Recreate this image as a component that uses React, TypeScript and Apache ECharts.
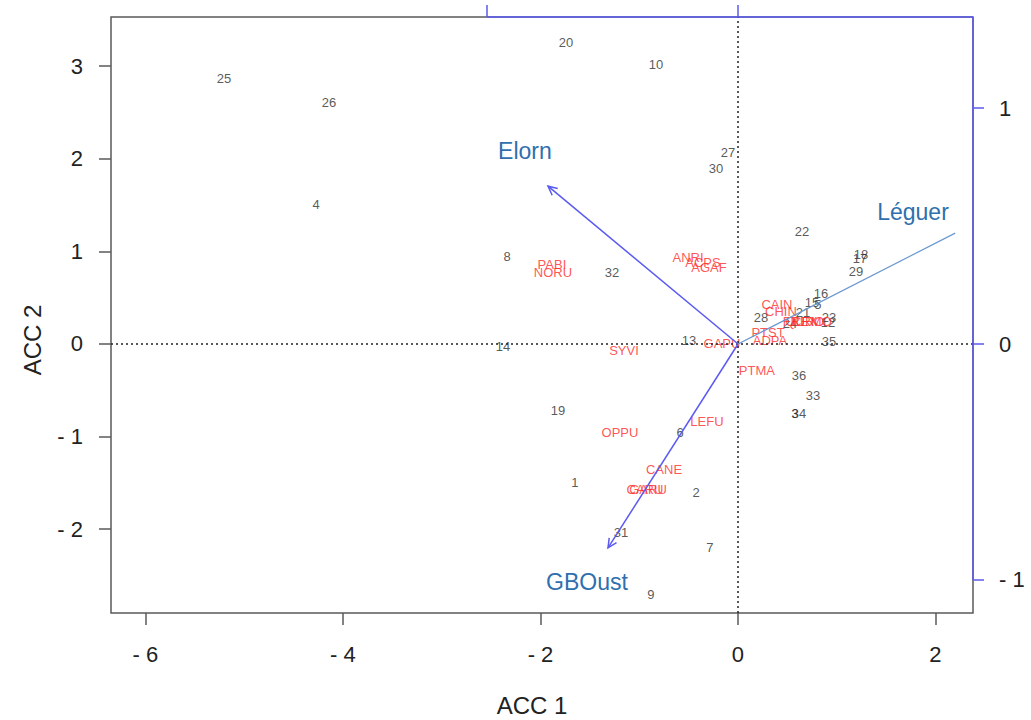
import React, { useEffect, useRef } from "react";
import * as echarts from "echarts";

// Site scores (ACC 1, ACC 2)
const siteNames = ["25", "26", "4", "20", "10", "27", "30", "22", "18", "17", "29", "16", "15", "5", "21", "28", "24", "23", "12", "35", "36", "33", "3", "34", "8", "32", "14", "13", "19", "6", "1", "2", "31", "7", "9"];
const siteX = [-5.205, -4.142, -4.273, -1.742, -0.83, -0.101, -0.223, 0.648, 1.246, 1.235, 1.195, 0.841, 0.749, 0.81, 0.658, 0.233, 0.527, 0.922, 0.911, 0.922, 0.618, 0.759, 0.577, 0.618, -2.339, -1.276, -2.38, -0.496, -1.823, -0.587, -1.651, -0.425, -1.185, -0.284, -0.881];
const siteY = [2.862, 2.613, 1.501, 3.251, 3.013, 2.073, 1.89, 1.21, 0.961, 0.918, 0.788, 0.54, 0.443, 0.421, 0.335, 0.281, 0.216, 0.281, 0.227, 0.032, -0.335, -0.551, -0.756, -0.756, 0.94, 0.767, -0.032, 0.043, -0.713, -0.961, -1.501, -1.609, -2.041, -2.203, -2.7];

// Species scores
const speciesNames = ["PABI", "NORU", "ANRI", "ACPS", "AGAF", "SYVI", "GAPU", "CAIN", "CHIN", "FREX", "QURO", "CRMO", "PTST", "ADPA", "PTMA", "LEFU", "OPPU", "CANE", "CARU", "GARU"];
const speciesX = [-1.884, -1.873, -0.506, -0.354, -0.294, -1.154, -0.162, 0.395, 0.435, 0.628, 0.678, 0.749, 0.304, 0.324, 0.192, -0.314, -1.195, -0.749, -0.942, -0.911];
const speciesY = [0.853, 0.767, 0.929, 0.875, 0.821, -0.065, 0.0, 0.421, 0.356, 0.238, 0.248, 0.238, 0.119, 0.043, -0.281, -0.842, -0.961, -1.35, -1.566, -1.566];

// Environmental vectors (secondary axes) and where their names sit
const arrowNames = ["Elorn", "Léguer", "GBOust"];
const arrowX = [-0.757, 0.865, -0.518];
const arrowY = [0.669, 0.47, -0.864];
const arrowLabelX = [-0.849, 0.697, -0.602];
const arrowLabelY = [0.818, 0.559, -1.008];
const arrowHead = [true, false, true];

// Axis ranges and ticks
const xRange = [-6.349, 2.38];
const yRange = [-2.905, 3.531];
const x2Range = [-2.498, 0.936];
const y2Range = [-1.14, 1.386];
const xTicks = [-6, -4, -2, 0, 2];
const yTicks = [-2, -1, 0, 1, 2, 3];
const x2Ticks = [-1, 0];
const y2Ticks = [-1, 0, 1];

const FONT = "'Liberation Sans', Arial, sans-serif";
const BLUE = "#5a5af2";
const fmt = (v: number) => (v < 0 ? "- " + Math.abs(v) : String(v));

export default function App() {
  const ref = useRef<HTMLDivElement>(null);

  useEffect(() => {
    if (!ref.current) return;
    const chart = echarts.init(ref.current, null, { renderer: "svg" });

    const sites = siteNames.map((n, i) => ({ name: n, value: [siteX[i], siteY[i]] }));
    const species = speciesNames.map((n, i) => ({ name: n, value: [speciesX[i], speciesY[i]] }));
    const arrows = arrowNames.map((n, i) => ({
      name: n,
      value: [arrowX[i], arrowY[i], arrowLabelX[i], arrowLabelY[i], arrowHead[i] ? 1 : 0],
    }));

    const hiddenLine = { show: false, onZero: false };

    const option: any = {
      animation: false,
      backgroundColor: "#ffffff",
      grid: {
        left: 111,
        top: 17,
        width: 862,
        height: 596,
        show: true,
        borderColor: "#5a5a5a",
        borderWidth: 1.5,
        backgroundColor: "transparent",
      },
      xAxis: [
        {
          type: "value",
          min: xRange[0],
          max: xRange[1],
          position: "bottom",
          axisLine: hiddenLine,
          splitLine: { show: false },
          axisTick: { show: true, customValues: xTicks, length: 12, lineStyle: { color: "#5a5a5a", width: 1.5 } },
          axisLabel: { customValues: xTicks, formatter: fmt, fontSize: 22, color: "#222", fontFamily: FONT, margin: 30 },
        },
        {
          type: "value",
          min: x2Range[0],
          max: x2Range[1],
          position: "top",
          axisLine: hiddenLine,
          splitLine: { show: false },
          axisTick: { show: true, customValues: x2Ticks, length: 12, lineStyle: { color: BLUE, width: 1.5 } },
          axisLabel: { show: false },
        },
      ],
      yAxis: [
        {
          type: "value",
          min: yRange[0],
          max: yRange[1],
          position: "left",
          axisLine: hiddenLine,
          splitLine: { show: false },
          axisTick: { show: true, customValues: yTicks, length: 12, lineStyle: { color: "#5a5a5a", width: 1.5 } },
          axisLabel: { customValues: yTicks, formatter: fmt, fontSize: 22, color: "#222", fontFamily: FONT, margin: 28 },
        },
        {
          type: "value",
          min: y2Range[0],
          max: y2Range[1],
          position: "right",
          axisLine: hiddenLine,
          splitLine: { show: false },
          axisTick: { show: true, customValues: y2Ticks, length: 11, lineStyle: { color: BLUE, width: 1.5 } },
          axisLabel: { customValues: y2Ticks, formatter: fmt, fontSize: 22, color: "#222", fontFamily: FONT, margin: 26 },
        },
      ],
      graphic: [
        {
          type: "text",
          x: 532,
          y: 705,
          style: { text: "ACC 1", font: `24px ${FONT}`, fill: "#222", align: "center", verticalAlign: "middle" },
        },
        {
          type: "text",
          x: 32,
          y: 340,
          rotation: Math.PI / 2,
          style: { text: "ACC 2", font: `24px ${FONT}`, fill: "#222", align: "center", verticalAlign: "middle" },
        },
      ],
      series: [
        {
          type: "scatter",
          name: "sites",
          xAxisIndex: 0,
          yAxisIndex: 0,
          symbolSize: 1,
          itemStyle: { color: "rgba(0,0,0,0)" },
          data: sites,
          label: {
            show: true,
            formatter: "{b}",
            position: "inside",
            color: "#2e2e2e",
            fontSize: 13,
            fontFamily: FONT,
          },
          markLine: {
            silent: true,
            symbol: ["none", "none"],
            label: { show: false },
            lineStyle: { type: [2, 3], color: "#222", width: 1.5 },
            data: [{ xAxis: 0 }, { yAxis: 0 }],
          },
          z: 3,
        },
        {
          type: "scatter",
          name: "species",
          xAxisIndex: 0,
          yAxisIndex: 0,
          symbolSize: 1,
          itemStyle: { color: "rgba(0,0,0,0)" },
          data: species,
          label: {
            show: true,
            formatter: "{b}",
            position: "inside",
            color: "#ff2a2a",
            fontSize: 13,
            fontFamily: FONT,
          },
          z: 4,
        },
        {
          type: "line",
          name: "top axis",
          xAxisIndex: 1,
          yAxisIndex: 1,
          clip: false,
          symbol: "none",
          lineStyle: { color: BLUE, width: 1.5 },
          data: [
            [x2Ticks[0], y2Range[1]],
            [x2Range[1], y2Range[1]],
          ],
          z: 5,
        },
        {
          type: "line",
          name: "right axis",
          xAxisIndex: 1,
          yAxisIndex: 1,
          clip: false,
          symbol: "none",
          lineStyle: { color: BLUE, width: 1.5 },
          data: [
            [x2Range[1], y2Ticks[0]],
            [x2Range[1], y2Range[1]],
          ],
          z: 5,
        },
        {
          type: "custom",
          name: "vectors",
          xAxisIndex: 1,
          yAxisIndex: 1,
          clip: false,
          encode: { x: 0, y: 1 },
          data: arrows,
          renderItem: (params: any, api: any) => {
            const o = api.coord([0, 0]);
            const t = api.coord([api.value(0), api.value(1)]);
            const lp = api.coord([api.value(2), api.value(3)]);
            const head = api.value(4) === 1;
            const color = head ? BLUE : "#6a98cf";
            const ang = Math.atan2(t[1] - o[1], t[0] - o[0]);
            const hl = 10;
            const a1 = ang + Math.PI - Math.PI / 7;
            const a2 = ang + Math.PI + Math.PI / 7;
            const children: any[] = [
              {
                type: "line",
                shape: { x1: o[0], y1: o[1], x2: t[0], y2: t[1] },
                style: { stroke: color, lineWidth: head ? 1.5 : 1.2 },
              },
              {
                type: "text",
                x: lp[0],
                y: lp[1],
                style: {
                  text: arrowNames[params.dataIndex],
                  font: `23px ${FONT}`,
                  fill: "#2f6fae",
                  align: "center",
                  verticalAlign: "middle",
                },
              },
            ];
            if (head) {
              children.push({
                type: "polyline",
                shape: {
                  points: [
                    [t[0] + hl * Math.cos(a1), t[1] + hl * Math.sin(a1)],
                    [t[0], t[1]],
                    [t[0] + hl * Math.cos(a2), t[1] + hl * Math.sin(a2)],
                  ],
                },
                style: { stroke: color, lineWidth: 1.5, fill: "none" },
              });
            }
            return { type: "group", children };
          },
          z: 6,
        },
      ],
    };

    chart.setOption(option);
    return () => chart.dispose();
  }, []);

  return (
    <div
      ref={ref}
      style={{ position: "fixed", left: 0, top: 0, width: 1031, height: 720, background: "#fff" }}
    />
  );
}
